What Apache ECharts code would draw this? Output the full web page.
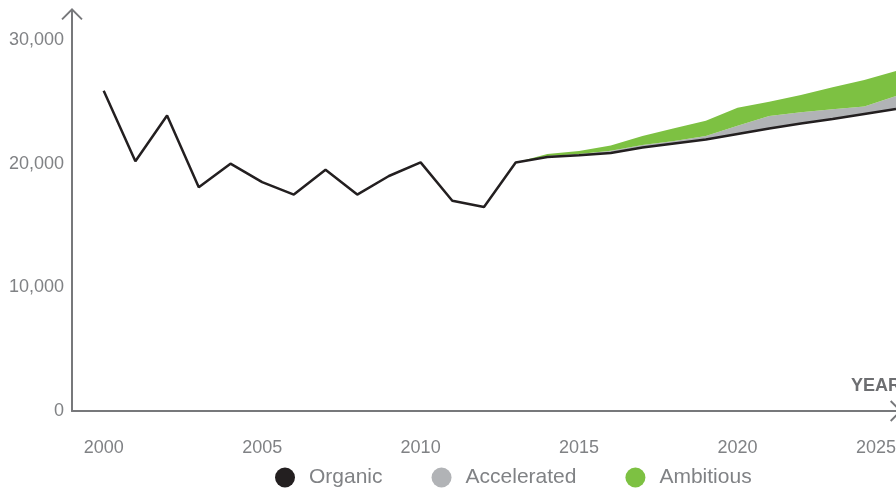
<!DOCTYPE html>
<html>
<head>
<meta charset="utf-8">
<title>Organic / Accelerated / Ambitious</title>
<script src="https://cdn.jsdelivr.net/npm/echarts@6/dist/echarts.min.js"></script>
<style>
  html, body { margin: 0; padding: 0; background: #fff; }
  #chart { width: 896px; height: 492px; }
</style>
</head>
<body>
<div id="chart"></div>
<script>
// years on the x axis
const years = [2000, 2001, 2002, 2003, 2004, 2005, 2006, 2007, 2008, 2009, 2010, 2011, 2012,
  2013, 2014, 2015, 2016, 2017, 2018, 2019, 2020, 2021, 2022, 2023, 2024, 2025];
// black line, history + organic projection
const organic = [25900, 20200, 23900, 18100, 20000, 18500, 17500, 19500, 17500, 19000, 20100, 17000, 16500,
  20100, 20540, 20680, 20860, 21310, 21630, 21950, 22400, 22840, 23250, 23610, 24020, 24420];
// projections start in 2013
const forecastStart = 2013;
const accelerated = [20100, 20620, 20780, 21050, 21510, 21830, 22240, 23070, 23850, 24150, 24400, 24620, 25470];
const ambitious = [20100, 20780, 21020, 21470, 22240, 22860, 23470, 24520, 25010, 25550, 26170, 26770, 27490];
const yTicks = [0, 10000, 20000, 30000];
const legendNames = ['Organic', 'Accelerated', 'Ambitious'];

const axisGray = '#77787b';
const textGray = '#808285';
const chevron = 'path://M11,0 L22,11 L20.6,12.4 L11,2.8 L1.4,12.4 L0,11 Z M10,1 L12,1 L12,12.4 L10,12.4 Z';

// one empty slot before 2000 so the y axis sits a bit left of the first point
const cats = ['1999'].concat(years.map(String));
const pad = v => [null].concat(v);

const k0 = years.indexOf(forecastStart);
const base = years.map((y, i) => i >= k0 ? organic[i] : null);
const accDiff = years.map((y, i) => i >= k0 ? accelerated[i - k0] - organic[i] : null);
const ambDiff = years.map((y, i) => i >= k0 ? ambitious[i - k0] - accelerated[i - k0] : null);

const chart = echarts.init(document.getElementById('chart'));
chart.setOption({
  animation: false,
  textStyle: { fontFamily: 'Liberation Sans, Arial, sans-serif' },
  grid: { left: 72, right: 0, top: 14, bottom: 81, containLabel: false, outerBoundsMode: 'none' },
  legend: {
    data: legendNames.map(n => ({ name: n, icon: 'circle' })),
    left: 275,
    top: 467,
    padding: 0,
    itemWidth: 20,
    itemHeight: 20,
    itemGap: 49,
    textStyle: { color: textGray, fontSize: 21, padding: [0, 0, 0, 9] },
    selectedMode: false
  },
  xAxis: {
    type: 'category',
    data: cats,
    boundaryGap: false,
    name: 'YEAR',
    nameLocation: 'end',
    nameGap: 5,
    nameTextStyle: {
      color: '#6d6e71', fontSize: 18, fontWeight: 'bold',
      align: 'right', verticalAlign: 'bottom', padding: [0, 0, 16, 0]
    },
    axisLine: {
      lineStyle: { color: axisGray, width: 2 },
      symbol: ['none', chevron],
      symbolSize: [22, 12]
    },
    axisTick: { show: false },
    axisLabel: {
      color: textGray,
      fontSize: 18,
      margin: 28,
      interval: (i, v) => Number(v) >= 2000 && Number(v) % 5 === 0,
      alignMaxLabel: 'right'
    },
    splitLine: { show: false }
  },
  yAxis: {
    type: 'value',
    min: 0,
    max: 32100,
    interval: 10000,
    axisLine: {
      show: true,
      lineStyle: { color: axisGray, width: 2 },
      symbol: ['none', chevron],
      symbolSize: [22, 12]
    },
    axisTick: { show: false },
    axisLabel: {
      color: textGray,
      fontSize: 18,
      margin: 8,
      showMaxLabel: false,
      formatter: v => yTicks.indexOf(v) >= 0 ? v.toLocaleString('en-US') : ''
    },
    splitLine: { show: false }
  },
  series: [
    {
      name: 'base',
      type: 'line',
      stack: 'proj',
      data: pad(base),
      symbol: 'none',
      silent: true,
      lineStyle: { width: 0, opacity: 0 }
    },
    {
      name: 'Accelerated',
      type: 'line',
      stack: 'proj',
      data: pad(accDiff),
      symbol: 'none',
      itemStyle: { color: '#b1b3b6' },
      lineStyle: { width: 0 },
      areaStyle: { color: '#b1b3b6', opacity: 1 }
    },
    {
      name: 'Ambitious',
      type: 'line',
      stack: 'proj',
      data: pad(ambDiff),
      symbol: 'none',
      itemStyle: { color: '#7dc142' },
      lineStyle: { width: 0 },
      areaStyle: { color: '#7dc142', opacity: 1 }
    },
    {
      name: 'Organic',
      type: 'line',
      data: pad(organic),
      symbol: 'none',
      z: 5,
      itemStyle: { color: '#231f20' },
      lineStyle: { color: '#231f20', width: 2.5 }
    }
  ]
});
</script>
</body>
</html>
